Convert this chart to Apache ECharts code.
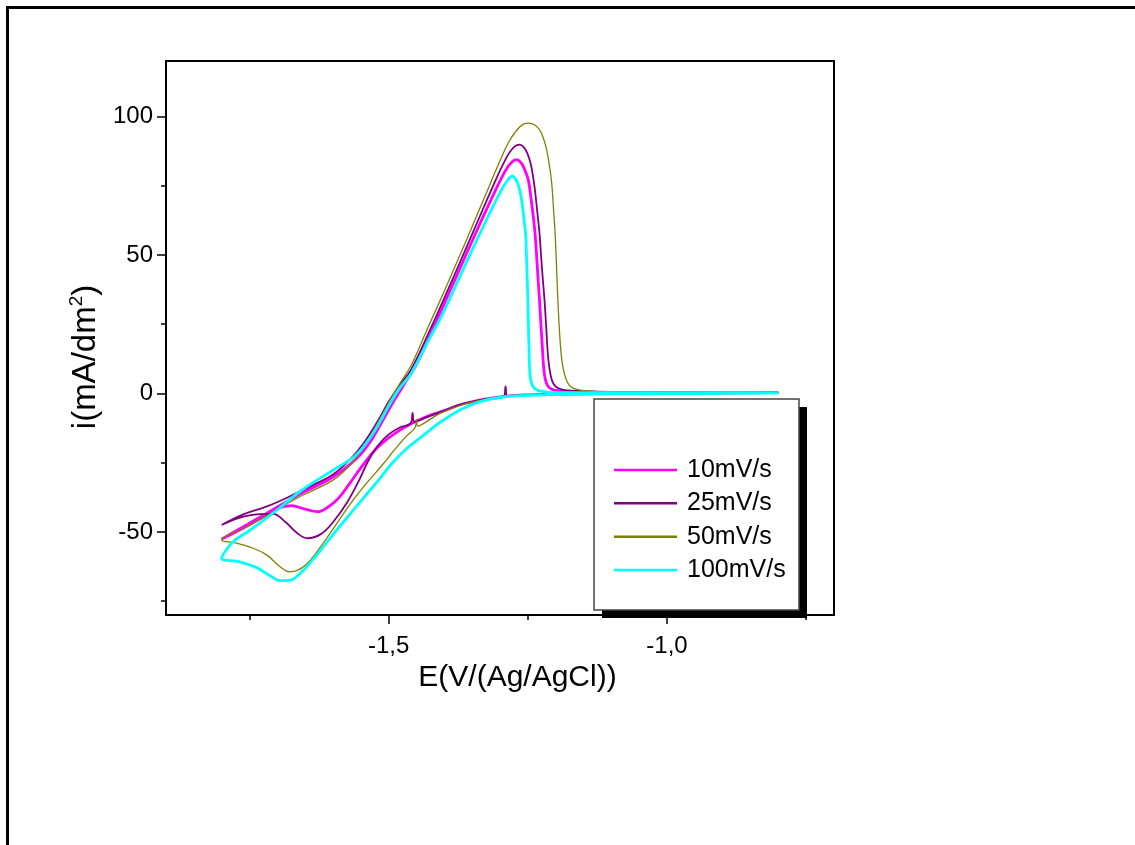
<!DOCTYPE html>
<html>
<head>
<meta charset="utf-8">
<style>
html,body{margin:0;padding:0;background:#fff;}
#chart{width:1135px;height:845px;}
</style>
<script src="https://cdn.jsdelivr.net/npm/echarts@6/dist/echarts.min.js"></script>
</head>
<body>
<div id="chart"></div>
<script>
// ---- data (E in V vs Ag/AgCl, i in mA/dm2) ----
const seriesNames = ['10mV/s', '25mV/s', '50mV/s', '100mV/s'];
const seriesColors = ['#FF00FF', '#800080', '#808000', '#00FFFF'];

const E_LABELS = [-1.5, -1.0];
const E_MINOR = [-1.75, -1.25, -0.75];
const I_LABELS = [-50, 0, 50, 100];
const I_MINOR = [-75, -25, 25, 75];

const scan10 = [
 [-0.80,0.3],[-0.90,0.1],[-1.00,0.0],[-1.10,-0.1],[-1.20,-0.3],[-1.25,-0.5],[-1.29,-1.0],[-1.33,-2.2],[-1.37,-4.0],[-1.40,-6.2],[-1.43,-8.3],[-1.46,-11.0],[-1.49,-14.6],[-1.52,-19.5],[-1.545,-25.5],[-1.57,-32.5],[-1.59,-37.8],[-1.61,-41.2],[-1.628,-42.7],[-1.65,-41.8],[-1.675,-40.5],[-1.70,-41.5],[-1.72,-44.0],[-1.76,-48.5],[-1.80,-52.6],
 [-1.76,-48.0],[-1.72,-43.4],[-1.66,-36.4],[-1.60,-30.2],[-1.555,-23.0],[-1.53,-16.5],[-1.51,-9.5],[-1.49,-2.5],[-1.47,4.0],[-1.45,10.5],[-1.42,23.5],[-1.38,41.5],[-1.34,59.5],[-1.31,72.5],[-1.29,80.5],[-1.28,83.3],[-1.270,84.4],[-1.262,83.2],[-1.255,80.5],[-1.249,76.9],[-1.244,70.0],[-1.240,63.5],[-1.237,57.7],[-1.234,49.0],[-1.2315,41.0],[-1.229,33.6],[-1.2265,25.0],[-1.224,17.0],[-1.222,10.5],[-1.219,5.5],[-1.215,3.0],[-1.208,1.6],[-1.195,0.9],[-1.17,0.6],[-1.10,0.4],[-1.00,0.35],[-0.90,0.3],[-0.80,0.3]
];
const scan25 = [
 [-0.80,0.3],[-0.90,0.1],[-1.00,0.0],[-1.10,-0.1],[-1.20,-0.3],[-1.25,-0.5],[-1.287,-1.0],[-1.290,2.5],[-1.293,-1.1],[-1.33,-2.2],[-1.37,-4.0],[-1.40,-6.2],[-1.43,-8.4],[-1.454,-10.3],[-1.457,-7.0],[-1.460,-10.7],[-1.48,-12.3],[-1.50,-14.8],[-1.52,-19.0],[-1.537,-24.5],[-1.553,-31.3],[-1.575,-39.5],[-1.60,-46.5],[-1.622,-50.8],[-1.646,-52.3],[-1.665,-50.3],[-1.685,-46.5],[-1.708,-43.5],[-1.75,-44.0],[-1.80,-47.5],
 [-1.76,-43.6],[-1.72,-40.9],[-1.68,-37.4],[-1.63,-32.5],[-1.60,-29.3],[-1.57,-24.0],[-1.545,-18.0],[-1.522,-10.8],[-1.50,-3.0],[-1.48,3.0],[-1.46,8.5],[-1.43,21.0],[-1.39,39.0],[-1.35,57.5],[-1.31,76.0],[-1.29,84.5],[-1.277,88.5],[-1.265,89.8],[-1.257,88.8],[-1.250,86.2],[-1.245,83.0],[-1.241,78.8],[-1.237,73.0],[-1.233,65.5],[-1.229,57.7],[-1.226,49.0],[-1.223,41.0],[-1.220,33.6],[-1.217,24.0],[-1.215,17.0],[-1.213,12.0],[-1.209,6.5],[-1.204,3.5],[-1.195,1.8],[-1.18,1.1],[-1.10,0.5],[-1.00,0.4],[-0.90,0.3],[-0.80,0.3]
];
const scan50 = [
 [-0.80,0.3],[-0.90,0.1],[-1.00,0.0],[-1.10,-0.1],[-1.20,-0.3],[-1.25,-0.5],[-1.29,-1.0],[-1.33,-2.3],[-1.37,-4.2],[-1.408,-7.2],[-1.448,-11.8],[-1.450,-9.5],[-1.452,-12.1],[-1.47,-15.8],[-1.49,-20.5],[-1.51,-25.5],[-1.54,-32.5],[-1.564,-38.5],[-1.59,-46.0],[-1.612,-52.5],[-1.63,-57.5],[-1.648,-61.8],[-1.665,-64.0],[-1.678,-64.4],[-1.695,-62.6],[-1.72,-58.2],[-1.75,-55.4],[-1.775,-54.0],[-1.80,-52.9],
 [-1.76,-48.6],[-1.72,-44.2],[-1.66,-37.3],[-1.60,-31.3],[-1.57,-26.0],[-1.545,-19.5],[-1.522,-11.5],[-1.50,-3.5],[-1.48,3.5],[-1.46,10.0],[-1.43,23.5],[-1.40,37.0],[-1.36,55.5],[-1.32,74.5],[-1.30,84.0],[-1.285,90.5],[-1.27,95.0],[-1.258,97.2],[-1.2475,97.6],[-1.237,96.8],[-1.228,94.9],[-1.221,91.5],[-1.216,87.7],[-1.211,82.0],[-1.207,75.7],[-1.204,67.0],[-1.201,57.7],[-1.1985,46.0],[-1.196,33.6],[-1.193,22.0],[-1.190,14.0],[-1.187,9.6],[-1.182,5.5],[-1.175,2.8],[-1.165,1.6],[-1.15,1.0],[-1.10,0.5],[-1.00,0.4],[-0.90,0.35],[-0.80,0.3]
];
const scan100 = [
 [-0.80,0.2],[-0.90,0.0],[-1.00,-0.1],[-1.10,-0.2],[-1.20,-0.4],[-1.25,-0.7],[-1.30,-1.4],[-1.336,-3.0],[-1.37,-5.8],[-1.408,-10.5],[-1.44,-15.5],[-1.468,-20.0],[-1.495,-25.5],[-1.518,-31.3],[-1.54,-36.5],[-1.565,-42.5],[-1.59,-48.5],[-1.612,-54.0],[-1.636,-60.0],[-1.658,-64.8],[-1.678,-67.5],[-1.695,-67.6],[-1.71,-66.2],[-1.738,-62.8],[-1.768,-60.8],[-1.80,-59.5],
 [-1.79,-56.0],[-1.775,-52.8],[-1.75,-49.5],[-1.70,-42.0],[-1.66,-35.5],[-1.60,-27.7],[-1.56,-22.5],[-1.535,-16.5],[-1.515,-10.0],[-1.50,-4.5],[-1.48,2.0],[-1.46,7.0],[-1.43,18.5],[-1.40,30.0],[-1.36,47.5],[-1.32,64.5],[-1.30,72.5],[-1.288,76.5],[-1.278,78.4],[-1.271,77.0],[-1.266,74.5],[-1.262,70.9],[-1.259,66.5],[-1.256,61.5],[-1.254,57.7],[-1.2525,50.0],[-1.2512,42.0],[-1.250,33.6],[-1.249,25.0],[-1.248,17.0],[-1.247,10.0],[-1.245,5.0],[-1.241,2.6],[-1.235,1.4],[-1.225,0.7],[-1.21,0.4],[-1.10,0.3],[-1.00,0.3],[-0.90,0.25],[-0.80,0.2]
];

const scans = [scan10, scan25, scan50, scan100];
const lineWidths = [2.8, 1.8, 1.3, 2.8];

const FONT = '"Liberation Sans", Arial, sans-serif';

const chart = echarts.init(document.getElementById('chart'), null, {renderer: 'canvas'});

const commaFmt = v => Number(v).toFixed(1).replace('.', ',');

const option = {
  animation: false,
  backgroundColor: '#fff',
  grid: {left: 166, top: 61, width: 668, height: 554, show: true, borderColor: '#000', borderWidth: 2, backgroundColor: 'transparent'},
  xAxis: [
    {
      type: 'value', min: -1.9, max: -0.7, position: 'bottom',
      axisLine: {show: false, onZero: false},
      splitLine: {show: false},
      axisTick: {show: true, customValues: E_LABELS, length: 9, lineStyle: {color: '#000', width: 1.5}},
      axisLabel: {customValues: E_LABELS, formatter: commaFmt, fontSize: 24, color: '#000', margin: 19, fontFamily: FONT},
      name: 'E(V/(Ag/AgCl))', nameLocation: 'middle', nameGap: 45,
      nameTextStyle: {fontSize: 30, color: '#000', fontFamily: FONT, padding: [0, 0, 0, 35]}
    },
    {
      type: 'value', min: -1.9, max: -0.7, position: 'bottom',
      axisLine: {show: false, onZero: false},
      splitLine: {show: false},
      axisTick: {show: true, customValues: E_MINOR, length: 5, lineStyle: {color: '#000', width: 1.5}},
      axisLabel: {show: false}
    }
  ],
  yAxis: [
    {
      type: 'value', min: -80, max: 120, position: 'left',
      axisLine: {show: false, onZero: false},
      splitLine: {show: false},
      axisTick: {show: true, customValues: I_LABELS, length: 9, lineStyle: {color: '#000', width: 1.5}},
      axisLabel: {customValues: I_LABELS, fontSize: 24, color: '#000', margin: 13, fontFamily: FONT},
      name: '{a|i(mA/dm}{s|2}{a|)}', nameLocation: 'middle', nameGap: 57,
      nameTextStyle: {
        padding: [0, 38, 0, 0],
        rich: {
          a: {fontSize: 33, color: '#000', fontFamily: FONT, lineHeight: 36},
          s: {fontSize: 19, color: '#000', fontFamily: FONT, verticalAlign: 'top', lineHeight: 36}
        }
      }
    },
    {
      type: 'value', min: -80, max: 120, position: 'left',
      axisLine: {show: false, onZero: false},
      splitLine: {show: false},
      axisTick: {show: true, customValues: I_MINOR, length: 5, lineStyle: {color: '#000', width: 1.5}},
      axisLabel: {show: false}
    }
  ],
  legend: {
    orient: 'vertical', left: 614, top: 457, padding: 0,
    itemWidth: 63, itemHeight: 2.5, itemGap: 7.33,
    icon: 'rect',
    data: seriesNames,
    textStyle: {fontSize: 25, lineHeight: 26, color: '#000', fontFamily: FONT, padding: [0, 0, 0, 5]},
    selectedMode: false,
    z: 6
  },
  graphic: [
    {type: 'rect', z: 0, silent: true, shape: {x: 7.5, y: 7.5, width: 1140, height: 900}, style: {fill: 'none', stroke: '#000', lineWidth: 3}},
    {type: 'rect', z: 5, silent: true, shape: {x: 602, y: 407, width: 205, height: 211}, style: {fill: '#000'}},
    {type: 'rect', z: 5, silent: true, shape: {x: 594, y: 399, width: 205, height: 211}, style: {fill: '#fff', stroke: '#444', lineWidth: 1.5}}
  ],
  series: seriesNames.map((name, k) => ({
    name: name,
    type: 'line',
    xAxisIndex: 0, yAxisIndex: 0,
    data: scans[k],
    symbol: 'none', showSymbol: false,
    smooth: 0.4,
    color: seriesColors[k],
    lineStyle: {color: seriesColors[k], width: lineWidths[k]},
    emphasis: {disabled: true},
    z: 2 + k * 0.01
  }))
};
chart.setOption(option);
</script>
</body>
</html>
